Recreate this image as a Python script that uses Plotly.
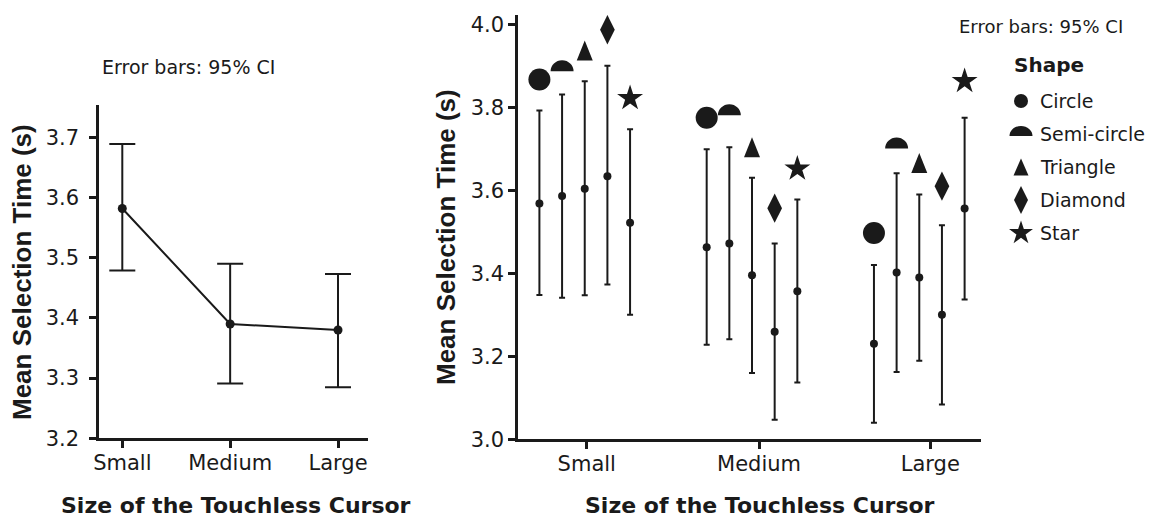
import plotly.graph_objects as go

# ---------------- data ----------------
sizes = ["Small", "Medium", "Large"]

# Left panel: overall mean selection time with 95% CI
overall_mean = [3.582, 3.390, 3.380]
overall_upper = [3.689, 3.490, 3.473]
overall_lower = [3.479, 3.291, 3.285]

# Right panel: per shape
shape_names = ["Circle", "Semi-circle", "Triangle", "Diamond", "Star"]

symbol_circle = [3.867, 3.775, 3.497]
symbol_semi = [3.900, 3.794, 3.714]
symbol_triangle = [3.937, 3.704, 3.666]
symbol_diamond = [3.987, 3.557, 3.610]
symbol_star = [3.822, 3.652, 3.863]

mean_circle = [3.568, 3.463, 3.230]
mean_semi = [3.586, 3.472, 3.402]
mean_triangle = [3.604, 3.395, 3.390]
mean_diamond = [3.634, 3.259, 3.300]
mean_star = [3.522, 3.357, 3.556]

upper_circle = [3.792, 3.699, 3.420]
upper_semi = [3.831, 3.704, 3.641]
upper_triangle = [3.863, 3.630, 3.590]
upper_diamond = [3.900, 3.472, 3.516]
upper_star = [3.747, 3.578, 3.775]

lower_circle = [3.348, 3.228, 3.040]
lower_semi = [3.341, 3.241, 3.162]
lower_triangle = [3.347, 3.160, 3.189]
lower_diamond = [3.373, 3.047, 3.084]
lower_star = [3.300, 3.137, 3.337]

# ---------------- style / page geometry ----------------
VIEW_W, VIEW_H = 1155, 518
OFF = 8                      # default page body margin
W, H = VIEW_W - OFF, VIEW_H - OFF
INK = "#1a1a1a"
FONT = "DejaVu Sans"
VFONT = "Liberation Sans"


def px(xp):
    """page x pixel -> paper fraction"""
    return (xp - OFF) / W


def py(yp):
    """page y pixel -> paper fraction"""
    return (H - (yp - OFF)) / H


fig = go.Figure()

# ---- left panel ----
xl = list(range(len(sizes)))
fig.add_trace(go.Scatter(
    x=xl, y=overall_mean, mode="lines+markers",
    line=dict(color=INK, width=2),
    marker=dict(size=9, color=INK),
    error_y=dict(type="data", symmetric=False,
                 array=[u - m for u, m in zip(overall_upper, overall_mean)],
                 arrayminus=[m - l for m, l in zip(overall_mean, overall_lower)],
                 thickness=2, width=13, color=INK),
    xaxis="x", yaxis="y", showlegend=False, hoverinfo="skip"))

# ---- right panel ----
series = [
    (symbol_circle, mean_circle, upper_circle, lower_circle),
    (symbol_semi, mean_semi, upper_semi, lower_semi),
    (symbol_triangle, mean_triangle, upper_triangle, lower_triangle),
    (symbol_diamond, mean_diamond, upper_diamond, lower_diamond),
    (symbol_star, mean_star, upper_star, lower_star),
]
DODGE = 0.1355
native_symbols = {0: ("circle", 22), 3: ("diamond-tall", 21), 4: ("star", 19.5)}

K = 0.5523


def semi_path(rx, ry):
    b = -ry / 2.0
    return (f"M {-rx},{b} C {-rx},{b + K * ry} {-K * rx},{b + ry} 0,{b + ry} "
            f"C {K * rx},{b + ry} {rx},{b + K * ry} {rx},{b} Z")


def tri_path(w, h):
    return f"M {-w / 2},{-h / 2} L {w / 2},{-h / 2} L 0,{h / 2} Z"


shapes = []
for k, (sym, mean, up, lo) in enumerate(series):
    xs = [i + (k - 2) * DODGE for i in range(len(sizes))]
    fig.add_trace(go.Scatter(
        x=xs, y=mean, mode="markers",
        marker=dict(size=8, color=INK),
        error_y=dict(type="data", symmetric=False,
                     array=[u - m for u, m in zip(up, mean)],
                     arrayminus=[m - l for m, l in zip(mean, lo)],
                     thickness=2, width=3, color=INK),
        xaxis="x2", yaxis="y2", showlegend=False, hoverinfo="skip"))
    if k in native_symbols:
        s, sz = native_symbols[k]
        fig.add_trace(go.Scatter(
            x=xs, y=sym, mode="markers",
            marker=dict(symbol=s, size=sz, color=INK, line=dict(width=0)),
            xaxis="x2", yaxis="y2", showlegend=False, hoverinfo="skip"))
    else:
        path = semi_path(11.5, 11.0) if k == 1 else tri_path(16, 20)
        for xv, yv in zip(xs, sym):
            shapes.append(dict(type="path", xref="x2", yref="y2",
                               xsizemode="pixel", ysizemode="pixel",
                               xanchor=xv, yanchor=yv, path=path,
                               fillcolor=INK, line=dict(width=0)))

# ---- custom legend (overlay axes in page-pixel units) ----
LX0, LX1, LY1 = 1000, VIEW_W, 260
leg_sym_x = 1021
leg_txt_x = 1038
leg_y = [101 + 33 * i for i in range(len(shape_names))]
leg_native = {0: ("circle", 14), 3: ("diamond-tall", 20), 4: ("star", 18)}
for k in range(len(shape_names)):
    if k in leg_native:
        s, sz = leg_native[k]
        fig.add_trace(go.Scatter(
            x=[leg_sym_x], y=[leg_y[k]], mode="markers",
            marker=dict(symbol=s, size=sz, color=INK, line=dict(width=0)),
            xaxis="x3", yaxis="y3", showlegend=False, hoverinfo="skip"))
    else:
        path = semi_path(11.5, 10) if k == 1 else tri_path(15, 17)
        yy = leg_y[k] - 3 if k == 1 else leg_y[k]
        shapes.append(dict(type="path", xref="x3", yref="y3",
                           xsizemode="pixel", ysizemode="pixel",
                           xanchor=leg_sym_x, yanchor=yy, path=path,
                           fillcolor=INK, line=dict(width=0)))

annotations = []
for k, name in enumerate(shape_names):
    annotations.append(dict(text=name, x=leg_txt_x, y=leg_y[k], xref="x3", yref="y3",
                            xanchor="left", yanchor="middle", showarrow=False,
                            font=dict(family=FONT, size=19, color=INK)))
annotations.append(dict(text="<b>Shape</b>", x=1012, y=65, xref="x3", yref="y3",
                        xanchor="left", yanchor="middle", showarrow=False,
                        font=dict(family=FONT, size=20, color=INK)))

# notes and titles
annotations += [
    dict(text="Error bars: 95% CI", x=px(188.5), y=py(67), xref="paper", yref="paper",
         xanchor="center", yanchor="middle", showarrow=False,
         font=dict(family=FONT, size=19, color=INK)),
    dict(text="Error bars: 95% CI", x=px(1041), y=py(27), xref="paper", yref="paper",
         xanchor="center", yanchor="middle", showarrow=False,
         font=dict(family=FONT, size=18, color=INK)),
    dict(text="<b>Size of the Touchless Cursor</b>", x=px(236), y=py(505),
         xref="paper", yref="paper", xanchor="center", yanchor="middle", showarrow=False,
         font=dict(family=FONT, size=22, color=INK)),
    dict(text="<b>Size of the Touchless Cursor</b>", x=px(760), y=py(505),
         xref="paper", yref="paper", xanchor="center", yanchor="middle", showarrow=False,
         font=dict(family=FONT, size=22, color=INK)),
    dict(text="<b>Mean Selection Time (s)</b>", x=px(22.5), y=py(272.5),
         xref="paper", yref="paper", xanchor="center", yanchor="middle", showarrow=False,
         textangle=-90, font=dict(family=VFONT, size=26, color=INK)),
    dict(text="<b>Mean Selection Time (s)</b>", x=px(446), y=py(237),
         xref="paper", yref="paper", xanchor="center", yanchor="middle", showarrow=False,
         textangle=-90, font=dict(family=VFONT, size=26, color=INK)),
]

axis_common = dict(showline=True, linewidth=2.5, linecolor=INK, ticks="outside",
                   ticklen=7, tickwidth=2.5, tickcolor=INK, showgrid=False,
                   zeroline=False, fixedrange=True, automargin=False,
                   tickfont=dict(family=FONT, size=21, color=INK))

fig.update_layout(
    width=W, height=H, margin=dict(l=0, r=0, t=0, b=0, pad=0, autoexpand=False),
    paper_bgcolor="white", plot_bgcolor="rgba(0,0,0,0)",
    showlegend=False,
    xaxis=dict(domain=[px(99), px(368)], range=[-0.216, 2.278], anchor="y",
               tickvals=xl, ticktext=sizes, ticklabelstandoff=-3, **axis_common),
    yaxis=dict(domain=[py(438.3), py(105)], range=[3.2, 3.754], anchor="x",
               tickvals=[3.2, 3.3, 3.4, 3.5, 3.6, 3.7], tickformat=".1f",
               ticklabelstandoff=6, **axis_common),
    xaxis2=dict(domain=[px(518), px(981)], range=[-0.399, 2.369], anchor="y2",
                tickvals=[0.012, 1.042, 2.066], ticktext=sizes, ticklabelstandoff=-3,
                **axis_common),
    yaxis2=dict(domain=[py(439.3), py(15)], range=[3.0, 4.0224], anchor="x2",
                tickvals=[3.0, 3.2, 3.4, 3.6, 3.8, 4.0], tickformat=".1f", **axis_common),
    xaxis3=dict(domain=[px(LX0), px(LX1)], range=[LX0, LX1], anchor="y3", visible=False,
                fixedrange=True, automargin=False),
    yaxis3=dict(domain=[py(LY1), py(OFF)], range=[LY1, OFF], anchor="x3", visible=False,
                fixedrange=True, automargin=False),
    shapes=shapes,
    annotations=annotations,
)

fig.write_html("out.html")
